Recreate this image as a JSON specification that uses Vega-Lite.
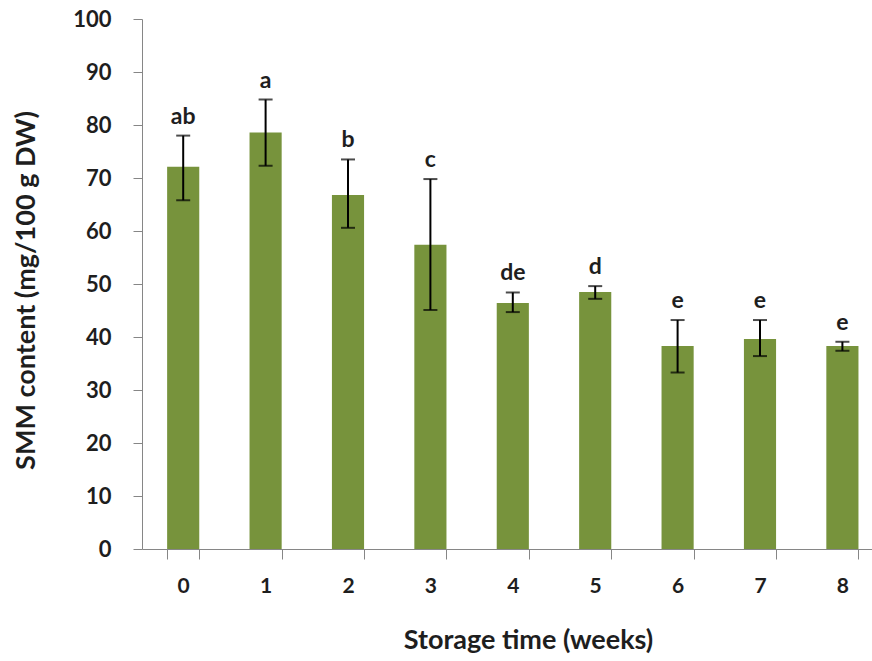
{
  "$schema": "https://vega.github.io/schema/vega-lite/v6.json",
  "width": 730,
  "height": 530,
  "autosize": "none",
  "padding": {"left": 142, "top": 19, "right": 0, "bottom": 112},
  "background": "white",
  "config": {"view": {"stroke": null}, "font": "Lato"},
  "data": {
    "values": [
      {"week": "0", "smm": 72.1, "lo": 65.8, "hi": 78.0, "grp": "ab"},
      {"week": "1", "smm": 78.6, "lo": 72.3, "hi": 84.8, "grp": "a"},
      {"week": "2", "smm": 66.8, "lo": 60.6, "hi": 73.5, "grp": "b"},
      {"week": "3", "smm": 57.4, "lo": 45.1, "hi": 69.8, "grp": "c"},
      {"week": "4", "smm": 46.4, "lo": 44.7, "hi": 48.4, "grp": "de"},
      {"week": "5", "smm": 48.5, "lo": 47.2, "hi": 49.6, "grp": "d"},
      {"week": "6", "smm": 38.3, "lo": 33.3, "hi": 43.2, "grp": "e"},
      {"week": "7", "smm": 39.6, "lo": 36.4, "hi": 43.2, "grp": "e"},
      {"week": "8", "smm": 38.3, "lo": 37.4, "hi": 39.1, "grp": "e"}
    ]
  },
  "encoding": {
    "x": {
      "field": "week",
      "type": "ordinal",
      "sort": null,
      "scale": {"range": [0, 741.6], "paddingInner": 0.61, "paddingOuter": 0.305},
      "axis": {
        "title": "Storage time (weeks)",
        "titleFontSize": 27,
        "titleFontWeight": "bold",
        "titleColor": "#1e1e1e",
        "titleX": 386,
        "titleY": 91,
        "titleBaseline": "middle",
        "labelAngle": 0,
        "labelFontSize": 21,
        "labelFontWeight": "bold",
        "labelColor": "#1e1e1e",
        "labelPadding": 16,
        "tickBand": "extent",
        "tickSize": 10,
        "tickColor": "#868686",
        "domainColor": "#868686",
        "grid": false
      }
    }
  },
  "layer": [
    {
      "mark": {"type": "bar", "color": "#77933c"},
      "encoding": {
        "y": {
          "field": "smm",
          "type": "quantitative",
          "scale": {"domain": [0, 100], "nice": false},
          "axis": {
            "title": "SMM content (mg/100 g DW)",
            "titleFontSize": 27,
            "titleFontWeight": "bold",
            "titleColor": "#1e1e1e",
            "titleX": -116,
            "titleY": 271,
            "titleAngle": -90,
            "titleBaseline": "middle",
            "values": [0, 10, 20, 30, 40, 50, 60, 70, 80, 90, 100],
            "labelFontSize": 22,
            "labelFontWeight": "bold",
            "labelColor": "#1e1e1e",
            "labelPadding": 22,
            "tickSize": 9,
            "tickColor": "#868686",
            "domainColor": "#868686",
            "grid": false
          }
        }
      }
    },
    {
      "mark": {"type": "rule", "color": "black", "strokeWidth": 2},
      "encoding": {
        "y": {"field": "lo", "type": "quantitative"},
        "y2": {"field": "hi"}
      }
    },
    {
      "mark": {"type": "tick", "color": "black", "size": 14, "thickness": 2},
      "encoding": {"y": {"field": "hi", "type": "quantitative"}}
    },
    {
      "mark": {"type": "tick", "color": "black", "size": 14, "thickness": 2},
      "encoding": {"y": {"field": "lo", "type": "quantitative"}}
    },
    {
      "mark": {"type": "text", "dy": -12, "baseline": "alphabetic", "fontSize": 23, "fontWeight": "bold", "color": "#1e1e1e"},
      "encoding": {
        "y": {"field": "hi", "type": "quantitative"},
        "text": {"field": "grp"}
      }
    }
  ]
}
